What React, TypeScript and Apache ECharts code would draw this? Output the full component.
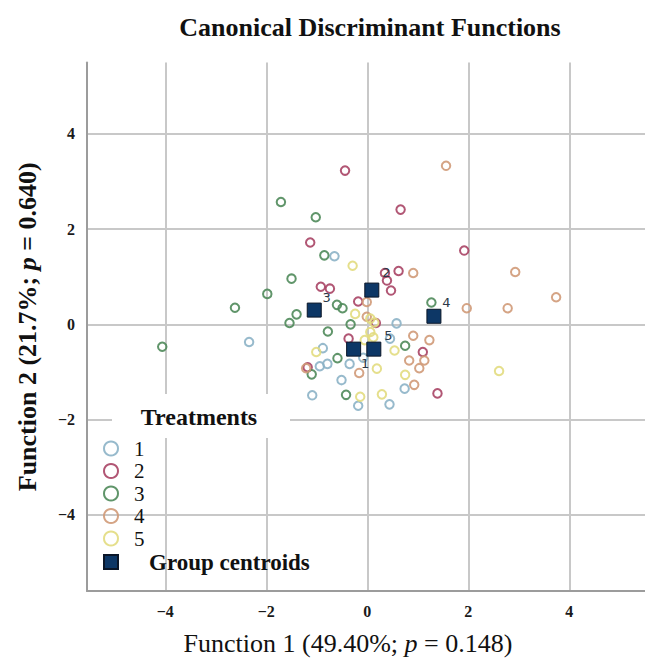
import React, { useEffect, useRef } from "react";
import * as echarts from "echarts";

// ---- Data ----
const treatmentNames = ["1", "2", "3", "4", "5"];
const treatmentColors = ["#8cb2c6", "#a84465", "#4f8a5a", "#d09a78", "#e2dc80"];

const treatment1: number[][] = [
  [-0.65, 1.43], [0.58, 0.02], [0.45, -0.3], [-0.88, -0.5], [-0.08, -0.7],
  [-0.79, -0.83], [-0.94, -0.88], [-0.35, -0.83], [-0.51, -1.17], [0.74, -1.35],
  [-1.09, -1.49], [0.44, -1.68], [-0.18, -1.71], [-2.34, -0.37],
];
const treatment2: number[][] = [
  [-0.44, 3.23], [0.66, 2.41], [-1.13, 1.72], [1.92, 1.55], [0.35, 1.08],
  [0.62, 1.12], [0.39, 0.92], [0.47, 0.71], [-0.92, 0.79], [-0.74, 0.75],
  [-0.18, 0.48], [0.17, 0.03], [-0.37, -0.3], [1.1, -0.58], [-1.18, -0.9],
  [1.39, -1.45],
];
const treatment3: number[][] = [
  [-1.71, 2.57], [-1.02, 2.25], [-0.85, 1.45], [-1.5, 0.96], [-1.98, 0.64],
  [-2.62, 0.35], [-0.6, 0.41], [-0.49, 0.34], [-1.4, 0.21], [-1.54, 0.03],
  [-0.33, 0.0], [-0.78, -0.15], [0.75, -0.45], [-0.59, -0.71], [-1.1, -1.05],
  [-0.42, -1.48], [1.27, 0.46], [-4.06, -0.47],
];
const treatment4: number[][] = [
  [1.56, 3.33], [0.91, 1.08], [2.93, 1.1], [3.74, 0.57], [1.97, 0.34],
  [2.78, 0.34], [-0.01, 0.47], [-0.01, 0.16], [0.91, -0.24], [1.23, -0.33],
  [0.83, -0.76], [1.13, -0.76], [1.03, -0.92], [-1.21, -0.92], [-0.16, -1.02],
  [0.93, -1.27],
];
const treatment5: number[][] = [
  [-0.29, 1.23], [-0.24, 0.22], [0.06, 0.12], [0.14, 0.04], [0.06, -0.16],
  [0.12, -0.27], [-0.05, -0.33], [0.54, -0.55], [-1.01, -0.58], [0.19, -0.93],
  [0.75, -1.06], [2.61, -0.98], [-0.14, -1.52], [0.29, -1.47],
];
const treatments = [treatment1, treatment2, treatment3, treatment4, treatment5];

const centroidLabels = ["1", "2", "3", "4", "5"];
const centroidValues: number[][] = [
  [-0.27, -0.52], [0.09, 0.72], [-1.05, 0.3], [1.32, 0.17], [0.13, -0.52],
];

const titleText = "Canonical Discriminant Functions";
const xAxisTitle = "Function 1 (49.40%; {i|p} = 0.148)";
const yAxisTitle = "Function 2 (21.7%; {i|p} = 0.640)";
const legendTitle = "Treatments";
const centroidName = "Group centroids";

// ---- Styles ----
const SERIF = "'Liberation Serif', 'DejaVu Serif', serif";
const labelOffsets: number[][] = [
  [19, 22], [22, -10], [20, -5], [20, -6], [22, -6],
];

const formatTick = (v: number) => (v < 0 ? "\u2212" + Math.abs(v) : String(v));

export default function App() {
  const ref = useRef<HTMLDivElement>(null);

  useEffect(() => {
    document.body.style.margin = "0";
    if (!ref.current) return;
    const chart = echarts.init(ref.current, null, { renderer: "svg" });

    const scatterSeries = treatments.map((pts, i) => ({
      name: treatmentNames[i],
      type: "scatter",
      data: pts,
      symbol: "circle",
      symbolSize: 8.5,
      itemStyle: {
        color: "transparent",
        borderColor: treatmentColors[i],
        borderWidth: 2,
        opacity: 0.9,
      },
      z: 2,
    }));

    const centroidSeries = {
      name: centroidName,
      type: "scatter",
      symbol: "rect",
      symbolSize: 14,
      itemStyle: { color: "#0d3766", borderColor: "#0a1628", borderWidth: 1, opacity: 1 },
      z: 5,
      data: centroidValues.map((v, i) => ({
        value: v,
        name: centroidLabels[i],
        label: {
          show: true,
          position: labelOffsets[i],
          formatter: centroidLabels[i],
          align: "center",
          verticalAlign: "middle",
          fontFamily: "'DejaVu Sans', sans-serif",
          fontSize: 13,
          color: "#2c3846",
        },
      })),
    };

    const axisLabelStyle = {
      fontFamily: SERIF,
      fontWeight: "bold",
      fontSize: 16,
      color: "#1a1a1a",
      showMinLabel: false,
      showMaxLabel: false,
      formatter: formatTick,
    };
    const splitLine = {
      show: true,
      showMinLine: false,
      showMaxLine: false,
      lineStyle: { color: "#c8c8c8", width: 2 },
    };
    const axisLine = {
      show: true,
      onZero: false,
      lineStyle: { color: "#9c9c9c", width: 2 },
    };

    chart.setOption({
      animation: false,
      grid: { left: 87, right: 0, top: 62.5, bottom: 70 },
      xAxis: {
        type: "value",
        min: -5.55,
        max: 5.5,
        splitNumber: 5,
        axisLine,
        axisTick: { show: false },
        splitLine,
        axisLabel: { ...axisLabelStyle, margin: 12 },
        name: xAxisTitle,
        nameLocation: "middle",
        nameGap: 39,
        nameTextStyle: {
          fontFamily: SERIF,
          fontSize: 26,
          color: "#111",
          padding: [0, 36, 0, 0],
          rich: { i: { fontFamily: SERIF, fontSize: 26, fontStyle: "italic", color: "#111" } },
        },
      },
      yAxis: {
        type: "value",
        min: -5.6,
        max: 5.5,
        splitNumber: 5,
        axisLine,
        axisTick: { show: false },
        splitLine,
        axisLabel: { ...axisLabelStyle, margin: 12 },
        name: yAxisTitle,
        nameLocation: "middle",
        nameGap: 47,
        nameTextStyle: {
          fontFamily: SERIF,
          fontSize: 26,
          fontWeight: "bold",
          color: "#111",
          rich: {
            i: { fontFamily: SERIF, fontSize: 26, fontWeight: "bold", fontStyle: "italic", color: "#111" },
          },
        },
      },
      legend: {
        orient: "vertical",
        left: 98,
        top: 433,
        itemWidth: 14,
        itemHeight: 14,
        itemGap: 1.5,
        data: [...treatmentNames, centroidName],
        formatter: (name: string) =>
          name === centroidName ? `{g|${name}}` : `{n|${name}}`,
        textStyle: {
          color: "#111",
          rich: {
            n: { fontFamily: SERIF, fontSize: 21, lineHeight: 20.5, padding: [0, 0, 0, 11], color: "#111" },
            g: { fontFamily: SERIF, fontSize: 23, fontWeight: "bold", lineHeight: 20.5, padding: [0, 0, 0, 26], color: "#111" },
          },
        },
      },
      graphic: [
        {
          type: "text",
          x: 370,
          y: 27,
          style: {
            text: titleText,
            align: "center",
            verticalAlign: "middle",
            fontFamily: SERIF,
            fontWeight: "bold",
            fontSize: 26,
            fill: "#111",
          },
        },
        {
          type: "rect",
          z: 50,
          shape: { x: 112, y: 394, width: 178, height: 44 },
          style: { fill: "#ffffff" },
        },
        {
          type: "text",
          z: 51,
          x: 199,
          y: 417,
          style: {
            text: legendTitle,
            align: "center",
            verticalAlign: "middle",
            fontFamily: SERIF,
            fontWeight: "bold",
            fontSize: 24,
            fill: "#111",
          },
        },
      ],
      series: [...scatterSeries, centroidSeries],
    });

    return () => chart.dispose();
  }, []);

  return <div ref={ref} style={{ width: 645, height: 661 }} />;
}
